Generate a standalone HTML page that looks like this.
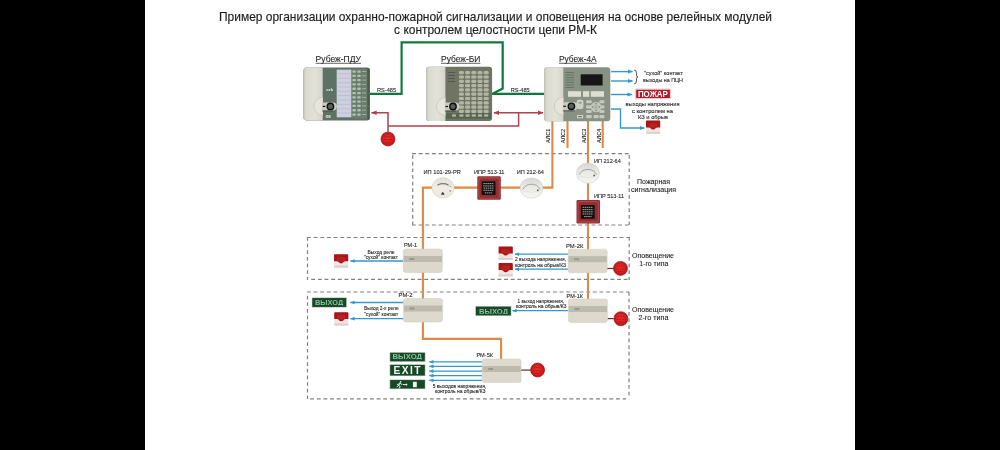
<!DOCTYPE html>
<html><head><meta charset="utf-8">
<style>
html,body{margin:0;padding:0;background:#000;width:1000px;height:450px;overflow:hidden}
svg{display:block}
text{font-family:"Liberation Sans",sans-serif;fill:#262626;stroke:#262626;stroke-width:0.1px}
</style></head>
<body>
<svg width="1000" height="450" viewBox="0 0 1000 450">
<defs>
  <filter id="soft" x="0" y="0" width="1000" height="450" filterUnits="userSpaceOnUse"><feGaussianBlur stdDeviation="0.35"/></filter>
  <marker id="ab" viewBox="0 0 10 10" refX="9" refY="5" markerWidth="3.6" markerHeight="3.6" orient="auto-start-reverse"><path d="M0,1 L10,5 L0,9 z" fill="#3399c8"/></marker>
  <marker id="ar" viewBox="0 0 10 10" refX="9" refY="5" markerWidth="3.8" markerHeight="3.8" orient="auto-start-reverse"><path d="M0,1 L10,5 L0,9 z" fill="#b03e48"/></marker>
  <linearGradient id="beige" x1="0" y1="0" x2="1" y2="0"><stop offset="0" stop-color="#c9c7bc"/><stop offset="0.15" stop-color="#dcdbd1"/><stop offset="0.6" stop-color="#e3e2d9"/><stop offset="1" stop-color="#d6d5cb"/></linearGradient>
  <linearGradient id="rmg" x1="0" y1="0" x2="0" y2="1"><stop offset="0" stop-color="#dedbcf"/><stop offset="1" stop-color="#dcd8cb"/></linearGradient>
  <radialGradient id="redc" cx="0.5" cy="0.5" r="0.5" fx="0.45" fy="0.42"><stop offset="0" stop-color="#ec3030"/><stop offset="0.65" stop-color="#d82020"/><stop offset="0.88" stop-color="#bb1a1a"/><stop offset="1" stop-color="#a31616"/></radialGradient>
  <linearGradient id="detv" x1="0" y1="0" x2="0" y2="1"><stop offset="0" stop-color="#d6d6d2"/><stop offset="0.45" stop-color="#e9e9e6"/><stop offset="1" stop-color="#f6f6f4"/></linearGradient>
  <linearGradient id="detv2" x1="0" y1="0" x2="0" y2="1"><stop offset="0" stop-color="#e4e1d8"/><stop offset="0.5" stop-color="#f0ede6"/><stop offset="1" stop-color="#ebe8e0"/></linearGradient>
  <radialGradient id="detg2" cx="0.5" cy="0.45" r="0.55"><stop offset="0" stop-color="#f6f4ee"/><stop offset="0.8" stop-color="#ebe8e0"/><stop offset="1" stop-color="#d8d5cc"/></radialGradient>
  <radialGradient id="detg" cx="0.5" cy="0.45" r="0.55"><stop offset="0" stop-color="#ffffff"/><stop offset="0.75" stop-color="#f0f0ec"/><stop offset="1" stop-color="#cfcfc8"/></radialGradient>

  <!-- RM module 39x23.5 -->
  <g id="rm">
    <rect x="0" y="0" width="39" height="23.5" rx="2.5" fill="url(#rmg)" stroke="#cfcbbd" stroke-width="0.5"/>
    <rect x="0.4" y="7" width="38.2" height="6" fill="#bdbaae"/>
    <rect x="6" y="9" width="5" height="2" fill="#9a978c"/>
  </g>
  <!-- siren 15x13.5 -->
  <g id="siren">
    <rect x="0" y="0" width="14.2" height="13.4" rx="0.8" fill="#efe6e3"/>
    <rect x="0" y="11.2" width="14.2" height="2.2" fill="#dcd3cf"/>
    <path d="M0,0.8 Q0,0 0.8,0 H13.4 Q14.2,0 14.2,0.8 V6.9 H11.4 Q10.2,6.9 9.6,7.8 Q8.6,9.1 7.1,9.1 Q5.6,9.1 4.6,7.8 Q4,6.9 2.8,6.9 H0 Z" fill="#a8171b"/>
    <ellipse cx="7.1" cy="4.8" rx="4.5" ry="2.6" fill="#c52a22" opacity="0.55"/>
  </g>
  <!-- red circle r7.3 -->
  <g id="rc">
    <circle cx="0" cy="0" r="7" fill="url(#redc)" stroke="#a51818" stroke-width="0.7"/>
    <path d="M-3.5,-2.2 h7 M-4,0.6 h8 M-2.5,3.2 h5" stroke="#9c1414" stroke-width="1" stroke-dasharray="1.2 0.6" opacity="0.75"/>
  </g>
  <!-- smoke detector (IP 212-64) -->
  <g id="det">
    <ellipse cx="0" cy="0" rx="11.4" ry="10.1" fill="url(#detv)" stroke="#cdcdc8" stroke-width="0.6"/>
    <path d="M-8.8,1.5 Q-6,-3.8 0,-3.8 Q6,-3.8 8.8,1.5" fill="none" stroke="#a4a39d" stroke-width="1"/>
    <path d="M-7.5,3 Q0,6 7.5,3" fill="none" stroke="#e2e2de" stroke-width="0.8"/>
    <circle cx="6.3" cy="2.2" r="1" fill="#6c6b66"/>
  </g>
  <!-- IP 101-29-PR -->
  <g id="det2">
    <ellipse cx="0" cy="0" rx="11.1" ry="10.1" fill="url(#detv2)" stroke="#d2cec6" stroke-width="0.6"/>
    <path d="M-5.5,-2.8 Q0,-5.6 5.5,-2.8" fill="none" stroke="#7d7a72" stroke-width="1.2"/>
    <path d="M6.2,-2.2 l2,1.2" stroke="#8f8c84" stroke-width="0.8"/>
    <path d="M-2,6.8 l1.1,-2.4 l1.4,0.2 l1,2.2 z" fill="#3a3834"/>
    <circle cx="7.2" cy="3" r="0.8" fill="#8a877f"/>
  </g>
  <!-- IPR -->
  <g id="ipr">
    <rect x="0" y="0" width="23.5" height="23.5" rx="1.2" fill="#922e32"/>
    <rect x="1.6" y="1.6" width="20.3" height="20.3" rx="0.8" fill="none" stroke="#ab4648" stroke-width="1.1"/>
    <rect x="4.4" y="5" width="13.8" height="13.8" rx="0.6" fill="#121010"/>
    <path d="M6,7.3 h10.5 M5.8,9.6 h11 M6.2,11.8 h10 M6,14 h10.6 M7.5,16.6 h7.5" stroke="#e6e2e2" stroke-width="0.7" stroke-dasharray="1.6 0.5"/>
  </g>
  <clipPath id="cs1"><rect x="312" y="297.8" width="34.6" height="7.4"/></clipPath>
  <clipPath id="cs2"><rect x="475.6" y="306.2" width="35.5" height="7.6"/></clipPath>
  <clipPath id="cs3"><rect x="389.9" y="352.4" width="35.2" height="7.2"/></clipPath>
</defs>

<!-- white page -->
<rect x="145" y="0" width="710" height="450" fill="#fff"/>
<g filter="url(#soft)">

<!-- title -->
<text x="495.5" y="20.7" font-size="11.9" style="stroke:#1e1e1e;stroke-width:0.15px;fill:#1e1e1e" text-anchor="middle" textLength="553" lengthAdjust="spacingAndGlyphs">Пример организации охранно-пожарной сигнализации и оповещения на основе релейных модулей</text>
<text x="495.6" y="33.6" font-size="11.9" style="stroke:#1e1e1e;stroke-width:0.15px;fill:#1e1e1e" text-anchor="middle" textLength="203" lengthAdjust="spacingAndGlyphs">с контролем целостности цепи РМ-К</text>

<!-- dashed boxes -->
<g fill="none" stroke="#808080" stroke-width="1.2">
  <line x1="412" y1="153.7" x2="629.5" y2="153.7" stroke-dasharray="3.9 2.75"/>
  <line x1="412" y1="225" x2="629.5" y2="225" stroke-dasharray="3.9 2.75"/>
  <line x1="412.7" y1="155.1" x2="412.7" y2="225" stroke-dasharray="3.7 2.95"/>
  <line x1="629.2" y1="155.1" x2="629.2" y2="225" stroke-dasharray="3.7 2.95"/>
  <line x1="307" y1="237.5" x2="629.5" y2="237.5" stroke-dasharray="3.9 2.75"/>
  <line x1="311.2" y1="279.3" x2="629.5" y2="279.3" stroke-dasharray="3.9 2.75"/>
  <line x1="307.5" y1="237" x2="307.5" y2="280" stroke-dasharray="3.7 2.95"/>
  <line x1="629.2" y1="237" x2="629.2" y2="280" stroke-dasharray="3.7 2.95"/>
  <line x1="306.9" y1="292" x2="629" y2="292" stroke-dasharray="3.9 2.75"/>
  <line x1="310.1" y1="398.9" x2="626.2" y2="398.9" stroke-dasharray="3.9 2.75"/>
  <line x1="307.5" y1="295.7" x2="307.5" y2="399" stroke-dasharray="3.7 2.95"/>
  <line x1="629" y1="292" x2="629" y2="398.5" stroke-dasharray="3.7 2.95"/>
</g>

<!-- green RS-485 -->
<g fill="none" stroke="#117a3c" stroke-width="2.2">
  <polyline points="370,93.8 401.6,93.8 401.6,42.4 502.7,42.4 502.7,88.6 493,93.5"/>
  <line x1="491" y1="93.8" x2="544" y2="93.8"/>
</g>
<text x="377" y="92" font-size="5.6" textLength="19" lengthAdjust="spacingAndGlyphs">RS-485</text>
<text x="510.7" y="92" font-size="5.6" textLength="19" lengthAdjust="spacingAndGlyphs">RS-485</text>

<!-- red wiring -->
<g fill="none" stroke="#a8464f" stroke-width="1.5">
  <polyline points="388,131.7 388,112.8 371.5,112.8" marker-end="url(#ar)"/>
  <polyline points="388,126.1 518.6,126.1 518.6,112.8"/>
  <line x1="494" y1="112.8" x2="543" y2="112.8" marker-start="url(#ar)" marker-end="url(#ar)"/>
</g>
<use href="#rc" x="388" y="139"/>

<!-- orange ALS lines -->
<g fill="none" stroke="#dc8a45" stroke-width="2.1">
  <polyline points="552.4,119 552.4,187.6 422.9,187.6 422.9,338.9 501.1,338.9 501.1,359"/>
  <line x1="567.5" y1="119" x2="567.5" y2="148"/>
  <line x1="588" y1="119" x2="588" y2="299"/>
  <line x1="602.7" y1="119" x2="602.7" y2="148"/>
</g>
<g font-size="5.2">
  <text transform="translate(549.6,143) rotate(-90)" textLength="14.3" lengthAdjust="spacingAndGlyphs">АЛС1</text>
  <text transform="translate(565,143.2) rotate(-90)" textLength="14.3" lengthAdjust="spacingAndGlyphs">АЛС2</text>
  <text transform="translate(586,143) rotate(-90)" textLength="14.3" lengthAdjust="spacingAndGlyphs">АЛС3</text>
  <text transform="translate(600.8,143) rotate(-90)" textLength="14.3" lengthAdjust="spacingAndGlyphs">АЛС4</text>
</g>

<!-- blue outputs from 4A -->
<g fill="none" stroke="#3399c8" stroke-width="1.4">
  <line x1="611" y1="71.6" x2="632.5" y2="71.6" marker-end="url(#ab)"/>
  <line x1="611" y1="81" x2="632.5" y2="81" marker-end="url(#ab)"/>
  <line x1="611" y1="94.5" x2="632" y2="94.5" marker-end="url(#ab)"/>
  <polyline points="611,109 620.5,109 620.5,128 644.3,128" marker-end="url(#ab)"/>
</g>
<path d="M634,70 q2.5,0 2.5,3 v2.5 q0,1.5 1.5,1.5 q-1.5,0 -1.5,1.5 v2.5 q0,3 -2.5,3" fill="none" stroke="#333" stroke-width="0.8"/>
<g font-size="5.6" text-anchor="middle">
  <text x="663.5" y="75.3" textLength="39" lengthAdjust="spacingAndGlyphs">"сухой" контакт</text>
  <text x="663" y="81.6" textLength="40" lengthAdjust="spacingAndGlyphs">выходы на ПЦН</text>
  <text x="652.5" y="106.3" textLength="54" lengthAdjust="spacingAndGlyphs">выходы напряжения</text>
  <text x="652.5" y="112.6" textLength="41" lengthAdjust="spacingAndGlyphs">с контролем на</text>
  <text x="653" y="118.5" textLength="30" lengthAdjust="spacingAndGlyphs">КЗ и обрыв</text>
</g>
<rect x="635" y="88.6" width="36" height="10.6" rx="0.8" fill="#f0c9c9"/>
<rect x="636.2" y="89.8" width="33.7" height="8.2" fill="#ae1f2c"/>
<text x="652.9" y="96.9" font-size="8.6" font-weight="bold" text-anchor="middle" style="fill:#fff;stroke:none" textLength="30" lengthAdjust="spacingAndGlyphs">ПОЖАР</text>
<use href="#siren" x="646" y="120.5"/>

<!-- fire alarm box content -->
<use href="#det2" x="443" y="187.9"/>
<use href="#ipr" x="477.3" y="176.3"/>
<use href="#det" x="531.5" y="188"/>
<use href="#det" x="587.9" y="173.2"/>
<use href="#ipr" x="576.5" y="200"/>
<g font-size="5.65">
  <text x="423.5" y="174" textLength="37.3" lengthAdjust="spacingAndGlyphs">ИП 101-29-PR</text>
  <text x="474" y="174" textLength="30.5" lengthAdjust="spacingAndGlyphs">ИПР 513-11</text>
  <text x="516.8" y="174" textLength="27.2" lengthAdjust="spacingAndGlyphs">ИП 212-64</text>
  <text x="594" y="163" textLength="26.8" lengthAdjust="spacingAndGlyphs">ИП 212-64</text>
  <text x="594" y="198.4" textLength="30" lengthAdjust="spacingAndGlyphs">ИПР 513-11</text>
</g>
<g font-size="7.05">
  <text x="637" y="184.1" textLength="33" lengthAdjust="spacingAndGlyphs">Пожарная</text>
  <text x="631" y="191.9" textLength="45" lengthAdjust="spacingAndGlyphs">сигнализация</text>
  <text x="632" y="258.2" textLength="42" lengthAdjust="spacingAndGlyphs">Оповещение</text>
  <text x="639.3" y="265.8" textLength="29" lengthAdjust="spacingAndGlyphs">1-го типа</text>
  <text x="632" y="312" textLength="42" lengthAdjust="spacingAndGlyphs">Оповещение</text>
  <text x="638.4" y="320" textLength="30" lengthAdjust="spacingAndGlyphs">2-го типа</text>
</g>

<!-- blue module outputs -->
<g fill="none" stroke="#3399c8" stroke-width="1.3">
  <line x1="403" y1="261" x2="350.5" y2="261" marker-end="url(#ab)"/>
  <line x1="568" y1="254.2" x2="515" y2="254.2" marker-end="url(#ab)"/>
  <line x1="568" y1="269.2" x2="515" y2="269.2" marker-end="url(#ab)"/>
  <line x1="403.5" y1="302.5" x2="350.5" y2="302.5" marker-end="url(#ab)"/>
  <line x1="403.5" y1="318.7" x2="350.5" y2="318.7" marker-end="url(#ab)"/>
  <line x1="568.4" y1="310.7" x2="512.5" y2="310.7" marker-end="url(#ab)"/>
  <line x1="482" y1="361.8" x2="429.3" y2="361.8" marker-end="url(#ab)"/>
  <line x1="482" y1="366.4" x2="429.3" y2="366.4" marker-end="url(#ab)"/>
  <line x1="482" y1="371.1" x2="429.3" y2="371.1" marker-end="url(#ab)"/>
  <line x1="482" y1="375.6" x2="429.3" y2="375.6" marker-end="url(#ab)"/>
  <line x1="482" y1="380.3" x2="429.3" y2="380.3" marker-end="url(#ab)"/>
</g>
<!-- red links to end devices -->
<g stroke="#5e2a36" stroke-width="1.2">
  <line x1="607" y1="268.5" x2="614" y2="268.5"/>
  <line x1="607.5" y1="318.6" x2="613.5" y2="318.6"/>
  <line x1="521" y1="370.1" x2="530.5" y2="370.1"/>
</g>
<use href="#rc" x="620.5" y="268.4"/>
<use href="#rc" x="620.9" y="318.7"/>
<use href="#rc" x="537.6" y="370"/>

<!-- modules -->
<use href="#rm" x="403.3" y="249"/>
<use href="#rm" x="568.2" y="249.2"/>
<use href="#rm" x="403.5" y="298.5"/>
<use href="#rm" x="568.4" y="299"/>
<use href="#rm" x="482.1" y="359"/>
<g font-size="5.6">
  <text x="404" y="247.3" textLength="13" lengthAdjust="spacingAndGlyphs">РМ-1</text>
  <text x="566" y="247.8" textLength="17.4" lengthAdjust="spacingAndGlyphs">РМ-2К</text>
  <text x="398.6" y="297.3" textLength="13.9" lengthAdjust="spacingAndGlyphs">РМ-2</text>
  <text x="566.6" y="297.6" textLength="16.4" lengthAdjust="spacingAndGlyphs">РМ-1К</text>
  <text x="476.4" y="357.3" textLength="16.7" lengthAdjust="spacingAndGlyphs">РМ-5К</text>
</g>

<!-- sirens -->
<use href="#siren" x="334" y="254.3"/>
<use href="#siren" x="498.6" y="246.5"/>
<use href="#siren" x="498.6" y="263.1"/>
<use href="#siren" x="334.2" y="312.2"/>

<!-- small texts -->
<g font-size="4.9" text-anchor="middle">
  <text x="381" y="254.3" textLength="27" lengthAdjust="spacingAndGlyphs">Выход реле</text>
  <text x="381" y="259.2" textLength="34" lengthAdjust="spacingAndGlyphs">"сухой" контакт</text>
  <text x="540.5" y="261" textLength="51" lengthAdjust="spacingAndGlyphs">2 выхода напряжения,</text>
  <text x="540.5" y="266.5" textLength="51" lengthAdjust="spacingAndGlyphs">контроль на обрыв/КЗ</text>
  <text x="381.3" y="310.2" textLength="34.6" lengthAdjust="spacingAndGlyphs">Выход 2-х реле</text>
  <text x="381.3" y="315.6" textLength="34" lengthAdjust="spacingAndGlyphs">"сухой" контакт</text>
  <text x="540.8" y="303.1" textLength="46.4" lengthAdjust="spacingAndGlyphs">1 выход напряжения,</text>
  <text x="541.3" y="308.2" textLength="50.6" lengthAdjust="spacingAndGlyphs">контроль на обрыв/КЗ</text>
  <text x="459.5" y="388.2" textLength="53.6" lengthAdjust="spacingAndGlyphs">5 выходов напряжения,</text>
  <text x="460.2" y="393" textLength="50.5" lengthAdjust="spacingAndGlyphs">контроль на обрыв/КЗ</text>
</g>

<!-- exit signs -->
<g>
  <rect x="312" y="297.8" width="34.6" height="9.4" fill="#184828" stroke="#cfdccf" stroke-width="0.5"/>
  <text clip-path="url(#cs1)" x="329.1" y="304.9" font-size="6.9" font-weight="bold" text-anchor="middle" style="fill:#8fbf9c;stroke:none" textLength="28.2" lengthAdjust="spacingAndGlyphs">ВЫХОД</text>
  <rect x="475.6" y="306.2" width="35.5" height="9.6" fill="#184828" stroke="#cfdccf" stroke-width="0.5"/>
  <text clip-path="url(#cs2)" x="493.6" y="313.5" font-size="7" font-weight="bold" text-anchor="middle" style="fill:#8fbf9c;stroke:none" textLength="29" lengthAdjust="spacingAndGlyphs">ВЫХОД</text>
  <rect x="389.9" y="352.4" width="35.2" height="9.3" fill="#184828" stroke="#cfdccf" stroke-width="0.5"/>
  <text clip-path="url(#cs3)" x="407.3" y="359.3" font-size="6.8" font-weight="bold" text-anchor="middle" style="fill:#8fbf9c;stroke:none" textLength="29.5" lengthAdjust="spacingAndGlyphs">ВЫХОД</text>
  <rect x="389.9" y="364.6" width="35.2" height="11.3" fill="#184828" stroke="#cfdccf" stroke-width="0.5"/>
  <text x="407" y="373.7" font-size="10.2" font-weight="bold" text-anchor="middle" style="fill:#f2f6f2;stroke:none" textLength="26.8" lengthAdjust="spacing">EXIT</text>
  <rect x="389.9" y="379.8" width="35.2" height="9.1" fill="#184828" stroke="#cfdccf" stroke-width="0.5"/>
  <g stroke="#e6efe6" stroke-width="1" fill="none" stroke-linecap="round">
    <circle cx="400.6" cy="381.9" r="0.8" fill="#e6efe6" stroke="none"/>
    <path d="M399.8,383.2 L398.6,385.6 L400.2,386.4 L399.4,388"/>
    <path d="M399.8,383.2 L401.8,384.4"/>
    <path d="M399.4,384 L397.4,384.4"/>
    <path d="M398.6,385.6 L397,386.6"/>
  </g>
  <path d="M402.8,384.6 h4" stroke="#e6efe6" stroke-width="1"/>
  <path d="M406,383.3 l1.6,1.3 l-1.6,1.3z" fill="#e6efe6"/>
  <rect x="412.9" y="381.8" width="3.9" height="5.4" fill="#f2f2f2"/>
</g>

<!-- device labels -->
<g font-size="8.45">
  <text x="315.6" y="62" textLength="45.4" lengthAdjust="spacingAndGlyphs">Рубеж-ПДУ</text>
  <text x="441" y="62" textLength="39.4" lengthAdjust="spacingAndGlyphs">Рубеж-БИ</text>
  <text x="559" y="62" textLength="37.7" lengthAdjust="spacingAndGlyphs">Рубеж-4А</text>
</g>
<g stroke="#3a3a3a" stroke-width="0.8">
  <line x1="315.6" y1="63.3" x2="361" y2="63.3"/>
  <line x1="441" y1="63.3" x2="480.4" y2="63.3"/>
  <line x1="559" y1="63.3" x2="596.7" y2="63.3"/>
</g>

<!-- Rubezh-PDU -->
<g>
<rect x="303.5" y="67.5" width="66.3" height="53.1" rx="3" fill="#5d7262"/>
<rect x="351.3" y="69" width="16" height="49.5" fill="#6a7e6d"/>
<rect x="352.3" y="70.4" width="3.6" height="2.3" rx="1" fill="#b4c0b3"/>
<rect x="357.2" y="70.4" width="3.6" height="2.3" rx="1" fill="#b4c0b3"/>
<rect x="362" y="71.0" width="4.2" height="1" fill="#9fae9f"/>
<rect x="352.3" y="74.7" width="3.6" height="2.3" rx="1" fill="#b4c0b3"/>
<rect x="357.2" y="74.7" width="3.6" height="2.3" rx="1" fill="#b4c0b3"/>
<rect x="362" y="75.3" width="4.2" height="1" fill="#9fae9f"/>
<rect x="352.3" y="79.0" width="3.6" height="2.3" rx="1" fill="#b4c0b3"/>
<rect x="357.2" y="79.0" width="3.6" height="2.3" rx="1" fill="#b4c0b3"/>
<rect x="362" y="79.6" width="4.2" height="1" fill="#9fae9f"/>
<rect x="352.3" y="83.3" width="3.6" height="2.3" rx="1" fill="#b4c0b3"/>
<rect x="357.2" y="83.3" width="3.6" height="2.3" rx="1" fill="#b4c0b3"/>
<rect x="362" y="83.9" width="4.2" height="1" fill="#9fae9f"/>
<rect x="352.3" y="87.6" width="3.6" height="2.3" rx="1" fill="#b4c0b3"/>
<rect x="357.2" y="87.6" width="3.6" height="2.3" rx="1" fill="#b4c0b3"/>
<rect x="362" y="88.2" width="4.2" height="1" fill="#9fae9f"/>
<rect x="352.3" y="91.9" width="3.6" height="2.3" rx="1" fill="#b4c0b3"/>
<rect x="357.2" y="91.9" width="3.6" height="2.3" rx="1" fill="#b4c0b3"/>
<rect x="362" y="92.5" width="4.2" height="1" fill="#9fae9f"/>
<rect x="352.3" y="96.2" width="3.6" height="2.3" rx="1" fill="#b4c0b3"/>
<rect x="357.2" y="96.2" width="3.6" height="2.3" rx="1" fill="#b4c0b3"/>
<rect x="362" y="96.8" width="4.2" height="1" fill="#9fae9f"/>
<rect x="352.3" y="100.5" width="3.6" height="2.3" rx="1" fill="#b4c0b3"/>
<rect x="357.2" y="100.5" width="3.6" height="2.3" rx="1" fill="#b4c0b3"/>
<rect x="362" y="101.1" width="4.2" height="1" fill="#9fae9f"/>
<rect x="352.3" y="104.8" width="3.6" height="2.3" rx="1" fill="#b4c0b3"/>
<rect x="357.2" y="104.8" width="3.6" height="2.3" rx="1" fill="#b4c0b3"/>
<rect x="362" y="105.4" width="4.2" height="1" fill="#9fae9f"/>
<rect x="352.3" y="109.1" width="3.6" height="2.3" rx="1" fill="#b4c0b3"/>
<rect x="357.2" y="109.1" width="3.6" height="2.3" rx="1" fill="#b4c0b3"/>
<rect x="362" y="109.7" width="4.2" height="1" fill="#9fae9f"/>
<rect x="352.3" y="113.4" width="3.6" height="2.3" rx="1" fill="#b4c0b3"/>
<rect x="357.2" y="113.4" width="3.6" height="2.3" rx="1" fill="#b4c0b3"/>
<rect x="362" y="114.0" width="4.2" height="1" fill="#9fae9f"/>
<rect x="336.7" y="69.6" width="14.6" height="47.7" fill="#ced0df"/>
<line x1="336.7" y1="73.9" x2="351.3" y2="73.9" stroke="#b3b5c6" stroke-width="0.6"/>
<line x1="336.7" y1="78.3" x2="351.3" y2="78.3" stroke="#b3b5c6" stroke-width="0.6"/>
<line x1="336.7" y1="82.6" x2="351.3" y2="82.6" stroke="#b3b5c6" stroke-width="0.6"/>
<line x1="336.7" y1="87.0" x2="351.3" y2="87.0" stroke="#b3b5c6" stroke-width="0.6"/>
<line x1="336.7" y1="91.3" x2="351.3" y2="91.3" stroke="#b3b5c6" stroke-width="0.6"/>
<line x1="336.7" y1="95.6" x2="351.3" y2="95.6" stroke="#b3b5c6" stroke-width="0.6"/>
<line x1="336.7" y1="100.0" x2="351.3" y2="100.0" stroke="#b3b5c6" stroke-width="0.6"/>
<line x1="336.7" y1="104.3" x2="351.3" y2="104.3" stroke="#b3b5c6" stroke-width="0.6"/>
<line x1="336.7" y1="108.7" x2="351.3" y2="108.7" stroke="#b3b5c6" stroke-width="0.6"/>
<line x1="336.7" y1="113.0" x2="351.3" y2="113.0" stroke="#b3b5c6" stroke-width="0.6"/>
<rect x="367.3" y="68.5" width="2.4" height="51" fill="#4a5d4d"/>
<path d="M306.5,67.5 H322.7 V120.6 H306.5 Q303.5,120.6 303.5,117.6 V70.5 Q303.5,67.5 306.5,67.5Z" fill="url(#beige)"/><path d="M322.7,97.4 A9,9 0 0 0 322.7,115.4" fill="#e6e4db" stroke="#cac8bb" stroke-width="0.9"/><path d="M322.2,102.4 H332.9 A4,4 0 0 1 332.9,110.4 H322.2Z" fill="#c9cbbf"/><line x1="322.2" y1="111.0" x2="333.4" y2="111.0" stroke="#3c3f3a" stroke-width="0.7"/><line x1="322.7" y1="106.4" x2="325.3" y2="106.4" stroke="#111" stroke-width="1.2"/><circle cx="330.4" cy="106.4" r="3.2" fill="#5c5c5a" stroke="#111" stroke-width="1.4"/>
<text x="326.3" y="91.3" font-size="4" font-weight="bold" style="fill:#e6ece6;stroke:none">ceb</text>
<text x="325.5" y="117.6" font-size="3.6" font-weight="bold" style="fill:#e6ece6;stroke:none">ФЕ</text>
</g>
<!-- Rubezh-BI -->
<g>
<rect x="426.1" y="66.8" width="66" height="54.2" rx="3" fill="#6f7563"/>
<rect x="446" y="113.2" width="45" height="5.5" fill="#55644f"/>
<rect x="458.9" y="71.1" width="5" height="3.2" rx="1.2" fill="#b1b6a5"/>
<rect x="465.1" y="71.1" width="5" height="3.2" rx="1.2" fill="#b1b6a5"/>
<rect x="471.3" y="71.1" width="5" height="3.2" rx="1.2" fill="#b1b6a5"/>
<rect x="477.5" y="71.1" width="5" height="3.2" rx="1.2" fill="#b1b6a5"/>
<rect x="483.7" y="71.1" width="5" height="3.2" rx="1.2" fill="#b1b6a5"/>
<rect x="458.9" y="75.4" width="5" height="3.2" rx="1.2" fill="#b1b6a5"/>
<rect x="465.1" y="75.4" width="5" height="3.2" rx="1.2" fill="#b1b6a5"/>
<rect x="471.3" y="75.4" width="5" height="3.2" rx="1.2" fill="#b1b6a5"/>
<rect x="477.5" y="75.4" width="5" height="3.2" rx="1.2" fill="#b1b6a5"/>
<rect x="483.7" y="75.4" width="5" height="3.2" rx="1.2" fill="#b1b6a5"/>
<rect x="458.9" y="79.7" width="5" height="3.2" rx="1.2" fill="#b1b6a5"/>
<rect x="465.1" y="79.7" width="5" height="3.2" rx="1.2" fill="#b1b6a5"/>
<rect x="471.3" y="79.7" width="5" height="3.2" rx="1.2" fill="#b1b6a5"/>
<rect x="477.5" y="79.7" width="5" height="3.2" rx="1.2" fill="#b1b6a5"/>
<rect x="483.7" y="79.7" width="5" height="3.2" rx="1.2" fill="#b1b6a5"/>
<rect x="458.9" y="84.0" width="5" height="3.2" rx="1.2" fill="#b1b6a5"/>
<rect x="465.1" y="84.0" width="5" height="3.2" rx="1.2" fill="#b1b6a5"/>
<rect x="471.3" y="84.0" width="5" height="3.2" rx="1.2" fill="#b1b6a5"/>
<rect x="477.5" y="84.0" width="5" height="3.2" rx="1.2" fill="#b1b6a5"/>
<rect x="483.7" y="84.0" width="5" height="3.2" rx="1.2" fill="#b1b6a5"/>
<rect x="458.9" y="88.3" width="5" height="3.2" rx="1.2" fill="#b1b6a5"/>
<rect x="465.1" y="88.3" width="5" height="3.2" rx="1.2" fill="#b1b6a5"/>
<rect x="471.3" y="88.3" width="5" height="3.2" rx="1.2" fill="#b1b6a5"/>
<rect x="477.5" y="88.3" width="5" height="3.2" rx="1.2" fill="#b1b6a5"/>
<rect x="483.7" y="88.3" width="5" height="3.2" rx="1.2" fill="#b1b6a5"/>
<rect x="458.9" y="92.6" width="5" height="3.2" rx="1.2" fill="#b1b6a5"/>
<rect x="465.1" y="92.6" width="5" height="3.2" rx="1.2" fill="#b1b6a5"/>
<rect x="471.3" y="92.6" width="5" height="3.2" rx="1.2" fill="#b1b6a5"/>
<rect x="477.5" y="92.6" width="5" height="3.2" rx="1.2" fill="#b1b6a5"/>
<rect x="483.7" y="92.6" width="5" height="3.2" rx="1.2" fill="#b1b6a5"/>
<rect x="458.9" y="96.9" width="5" height="3.2" rx="1.2" fill="#b1b6a5"/>
<rect x="465.1" y="96.9" width="5" height="3.2" rx="1.2" fill="#b1b6a5"/>
<rect x="471.3" y="96.9" width="5" height="3.2" rx="1.2" fill="#b1b6a5"/>
<rect x="477.5" y="96.9" width="5" height="3.2" rx="1.2" fill="#b1b6a5"/>
<rect x="483.7" y="96.9" width="5" height="3.2" rx="1.2" fill="#b1b6a5"/>
<rect x="458.9" y="101.2" width="5" height="3.2" rx="1.2" fill="#b1b6a5"/>
<rect x="465.1" y="101.2" width="5" height="3.2" rx="1.2" fill="#b1b6a5"/>
<rect x="471.3" y="101.2" width="5" height="3.2" rx="1.2" fill="#b1b6a5"/>
<rect x="477.5" y="101.2" width="5" height="3.2" rx="1.2" fill="#b1b6a5"/>
<rect x="483.7" y="101.2" width="5" height="3.2" rx="1.2" fill="#b1b6a5"/>
<rect x="458.9" y="105.5" width="5" height="3.2" rx="1.2" fill="#b1b6a5"/>
<rect x="465.1" y="105.5" width="5" height="3.2" rx="1.2" fill="#b1b6a5"/>
<rect x="471.3" y="105.5" width="5" height="3.2" rx="1.2" fill="#b1b6a5"/>
<rect x="477.5" y="105.5" width="5" height="3.2" rx="1.2" fill="#b1b6a5"/>
<rect x="483.7" y="105.5" width="5" height="3.2" rx="1.2" fill="#b1b6a5"/>
<rect x="458.9" y="109.8" width="5" height="3.2" rx="1.2" fill="#b1b6a5"/>
<rect x="465.1" y="109.8" width="5" height="3.2" rx="1.2" fill="#b1b6a5"/>
<rect x="471.3" y="109.8" width="5" height="3.2" rx="1.2" fill="#b1b6a5"/>
<rect x="477.5" y="109.8" width="5" height="3.2" rx="1.2" fill="#b1b6a5"/>
<rect x="483.7" y="109.8" width="5" height="3.2" rx="1.2" fill="#b1b6a5"/>
<rect x="459.2" y="114.3" width="4.4" height="2.4" rx="1" fill="#a8b4a0"/>
<rect x="465.4" y="114.3" width="4.4" height="2.4" rx="1" fill="#a8b4a0"/>
<rect x="471.6" y="114.3" width="4.4" height="2.4" rx="1" fill="#a8b4a0"/>
<rect x="477.8" y="114.3" width="4.4" height="2.4" rx="1" fill="#a8b4a0"/>
<rect x="484.0" y="114.3" width="4.4" height="2.4" rx="1" fill="#a8b4a0"/>
<rect x="452" y="114.3" width="4" height="2.4" rx="1" fill="#a8b4a0"/>
<line x1="448" y1="72.5" x2="455" y2="72.5" stroke="#4a4b45" stroke-width="0.7"/>
<line x1="448" y1="75.5" x2="455" y2="75.5" stroke="#4a4b45" stroke-width="0.7"/>
<line x1="448" y1="78.5" x2="455" y2="78.5" stroke="#4a4b45" stroke-width="0.7"/>
<line x1="448" y1="81.5" x2="455" y2="81.5" stroke="#4a4b45" stroke-width="0.7"/>
<path d="M429.1,66.8 H445.4 V121 H429.1 Q426.1,121 426.1,118 V69.8 Q426.1,66.8 429.1,66.8Z" fill="url(#beige)"/><path d="M445.4,97.5 A9,9 0 0 0 445.4,115.5" fill="#e6e4db" stroke="#cac8bb" stroke-width="0.9"/><path d="M444.9,102.5 H455.5 A4,4 0 0 1 455.5,110.5 H444.9Z" fill="#c9cbbf"/><line x1="444.9" y1="111.1" x2="456" y2="111.1" stroke="#3c3f3a" stroke-width="0.7"/><line x1="445.4" y1="106.5" x2="448.0" y2="106.5" stroke="#111" stroke-width="1.2"/><circle cx="453" cy="106.5" r="3.2" fill="#5c5c5a" stroke="#111" stroke-width="1.4"/>
</g>
<!-- Rubezh-4A -->
<g>
<rect x="544.3" y="67.3" width="66" height="53.9" rx="3" fill="#899184"/>
<rect x="580.7" y="74.3" width="21.9" height="11.2" fill="#161616"/>
<line x1="565.5" y1="72.5" x2="574" y2="72.5" stroke="#50564d" stroke-width="0.55"/>
<line x1="565.5" y1="75" x2="574" y2="75" stroke="#50564d" stroke-width="0.55"/>
<line x1="565.5" y1="77.5" x2="574" y2="77.5" stroke="#50564d" stroke-width="0.55"/>
<line x1="565.5" y1="80" x2="574" y2="80" stroke="#50564d" stroke-width="0.55"/>
<line x1="565.5" y1="82.5" x2="574" y2="82.5" stroke="#50564d" stroke-width="0.55"/>
<line x1="565.5" y1="85" x2="574" y2="85" stroke="#50564d" stroke-width="0.55"/>
<line x1="565.5" y1="87.5" x2="574" y2="87.5" stroke="#50564d" stroke-width="0.55"/>
<rect x="568" y="91.2" width="13" height="5.6" fill="#dcdfd2"/>
<rect x="583" y="91.2" width="6.2" height="5.6" fill="#dcdfd2"/>
<rect x="590.8" y="91.2" width="13.2" height="5.6" fill="#dcdfd2"/>
<rect x="577" y="100" width="6.1" height="8.7" rx="2" fill="#cdd1c4" stroke="#e3e5dc" stroke-width="0.5"/>
<rect x="578.3" y="101.8" width="3.5" height="2" rx="0.8" fill="#9da294"/>
<rect x="577" y="115" width="6.1" height="3.2" rx="0.6" fill="#d6d9cd"/>
<rect x="578.2" y="116" width="3.7" height="1.2" fill="#6b7068"/>
<rect x="586" y="100.3" width="5.8" height="2.9" rx="1.2" fill="#c6cabd"/>
<rect x="599.3" y="100.3" width="5.2" height="2.9" rx="1.2" fill="#c6cabd"/>
<rect x="586" y="105.2" width="5.8" height="3.2" rx="1.2" fill="#c6cabd"/>
<rect x="599.3" y="105.2" width="5.2" height="3.2" rx="1.2" fill="#c6cabd"/>
<rect x="586" y="109.9" width="5.8" height="3.1" rx="1.2" fill="#c6cabd"/>
<rect x="599.3" y="109.9" width="5.2" height="3.1" rx="1.2" fill="#c6cabd"/>
<rect x="586" y="115.1" width="5.8" height="3.2" rx="1.2" fill="#c6cabd"/>
<rect x="599.3" y="115.1" width="5.2" height="3.2" rx="1.2" fill="#c6cabd"/>
<rect x="593.5" y="115.1" width="5.2" height="3.2" rx="1.2" fill="#c6cabd"/>
<circle cx="596.1" cy="107" r="5.3" fill="#c3c7ba"/>
<circle cx="596.1" cy="107" r="2" fill="#aeb3a6"/>
<path d="M596.1,102.6 l-1.2,1.6 h2.4z M596.1,111.4 l-1.2,-1.6 h2.4z M591.7,107 l1.6,-1.2 v2.4z M600.5,107 l-1.6,-1.2 v2.4z" fill="#7d8377"/>
<path d="M547.3,67.3 H563.3 V121.2 H547.3 Q544.3,121.2 544.3,118.2 V70.3 Q544.3,67.3 547.3,67.3Z" fill="url(#beige)"/><path d="M563.3,97.3 A9,9 0 0 0 563.3,115.3" fill="#e6e4db" stroke="#cac8bb" stroke-width="0.9"/><path d="M562.8,102.3 H573.9 A4,4 0 0 1 573.9,110.3 H562.8Z" fill="#c9cbbf"/><line x1="562.8" y1="110.89999999999999" x2="574.4" y2="110.89999999999999" stroke="#3c3f3a" stroke-width="0.7"/><line x1="563.3" y1="106.3" x2="565.9" y2="106.3" stroke="#111" stroke-width="1.2"/><circle cx="571.4" cy="106.3" r="3.2" fill="#5c5c5a" stroke="#111" stroke-width="1.4"/>
</g>
</g>
</svg>
</body></html>
